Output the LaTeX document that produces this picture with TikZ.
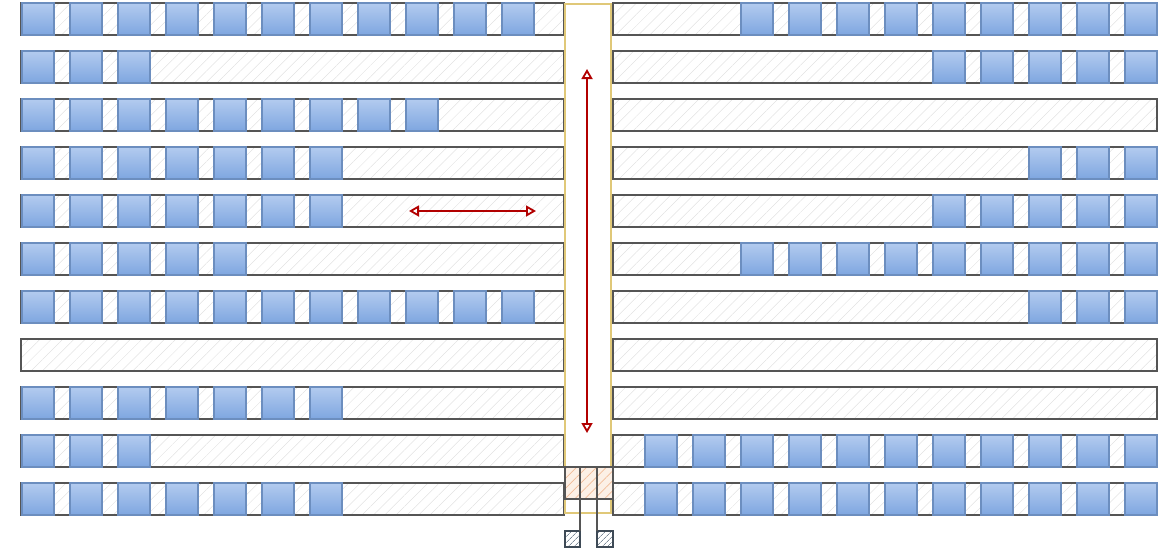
\documentclass[tikz,border=0pt]{standalone}
\usetikzlibrary{patterns.meta,arrows.meta}
\definecolor{shelfline}{HTML}{555555}
\definecolor{hatchgray}{HTML}{E2E2E2}
\definecolor{boxtop}{HTML}{B3CBEF}
\definecolor{boxbot}{HTML}{7EA6E0}
\definecolor{boxline}{HTML}{6C8EBF}
\definecolor{aisleyellow}{HTML}{E0C878}
\definecolor{arrowred}{HTML}{B20000}
\definecolor{liftorange}{HTML}{F2BC98}
\definecolor{liftfill}{HTML}{FCF0E6}
\definecolor{footline}{HTML}{3E4A56}
\definecolor{foothatch}{HTML}{7D8B99}
\tikzset{
  shelf/.style={draw=shelfline, line width=1.2pt, inner sep=0pt, outer sep=0pt,
    pattern={Lines[angle=45,distance=8pt,line width=0.5pt]}, pattern color=hatchgray},
  boxn/.style={draw=boxline, line width=1.4pt, top color=boxtop, bottom color=boxbot,
    minimum size=32pt, inner sep=0pt, outer sep=0pt},
  aislen/.style={draw=aisleyellow, line width=1.6pt, fill=white, inner sep=0pt, outer sep=0pt},
  liftn/.style={draw=shelfline, line width=1.3pt, inner sep=0pt, outer sep=0pt,
    preaction={fill=liftfill},
    pattern={Lines[angle=45,distance=7pt,line width=0.7pt]}, pattern color=liftorange},
  footn/.style={draw=footline, line width=1.2pt, inner sep=0pt, outer sep=0pt,
    minimum width=15pt, minimum height=16pt, preaction={fill=white},
    pattern={Lines[angle=45,distance=4pt,line width=0.7pt]}, pattern color=foothatch},
  legline/.style={draw=shelfline, line width=1.2pt},
  redarrow/.style={draw=arrowred, line width=1.8pt,
    {Triangle[open,length=10pt,width=11pt]}-{Triangle[open,length=10pt,width=11pt]}}
}
\begin{document}
\begin{tikzpicture}[x=1pt,y=-1pt]
\useasboundingbox (0,0) rectangle (1168,549);
% shelves
\foreach \r in {0,...,10}{
  \node[shelf, minimum width=543pt, minimum height=32pt, anchor=north west] (SL\r) at (21,{3+48*\r}) {};
  \node[shelf, minimum width=544pt, minimum height=32pt, anchor=north west] (SR\r) at (613,{3+48*\r}) {};
}
% boxes
\foreach \r/\nl/\nr in {0/11/9, 1/3/5, 2/9/0, 3/7/3, 4/7/5, 5/5/9, 6/11/3, 7/0/0, 8/7/0, 9/3/11, 10/7/11}{
  \ifnum\nl>0
    \foreach \k in {1,...,\nl}{
      \node[boxn, anchor=north west] (L\r-\k) at ({22+48*(\k-1)},{3+48*\r}) {};
    }
  \fi
  \ifnum\nr>0
    \foreach \k in {1,...,\nr}{
      \node[boxn, anchor=north east] (R\r-\k) at ({1157-48*(\k-1)},{3+48*\r}) {};
    }
  \fi
}
% aisle
\node[aislen, minimum width=46pt, minimum height=509pt, anchor=north west] (aisle) at (565,4) {};
% lift
\node[liftn, minimum width=48pt, minimum height=32pt, anchor=north west] (lift) at (565,467) {};
\draw[legline] ([xshift=15pt]lift.north west) -- ([xshift=15pt]lift.south west);
\draw[legline] ([xshift=-16pt]lift.north east) -- ([xshift=-16pt]lift.south east);
\node[footn, anchor=north west] (footL) at (565,531) {};
\node[footn, minimum width=16pt, anchor=north east] (footR) at (613,531) {};
\draw[legline] (footL.north east) -- (footL.north east |- lift.south);
\draw[legline] (footR.north west) -- (footR.north west |- lift.south);
% arrows
\coordinate (vtop) at (587,69);
\coordinate (vbot) at (587,433);
\coordinate (hl) at (409,211);
\coordinate (hr) at (536,211);
\draw[redarrow] (vtop) -- (vbot);
\draw[redarrow] (hl) -- (hr);
\end{tikzpicture}
\end{document}
